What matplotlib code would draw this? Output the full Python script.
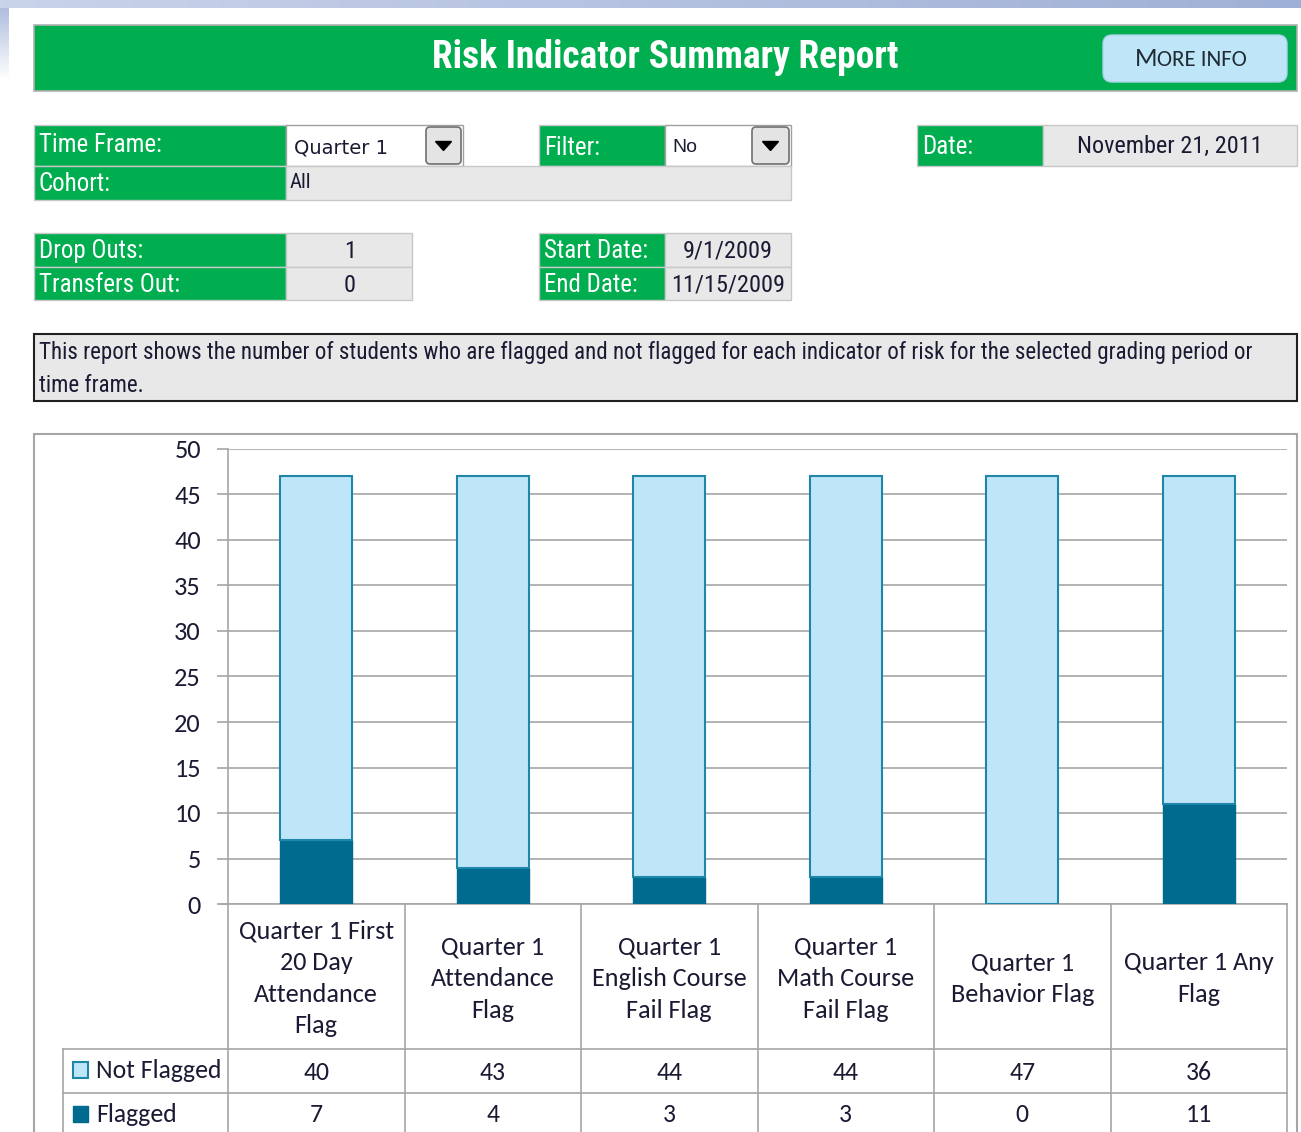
import numpy as np
import matplotlib
matplotlib.use("Agg")
import matplotlib.pyplot as plt
from matplotlib.patches import Rectangle, FancyBboxPatch, Polygon

# chart data
categories = [
    "Quarter 1 First\n20 Day\nAttendance\nFlag",
    "Quarter 1\nAttendance\nFlag",
    "Quarter 1\nEnglish Course\nFail Flag",
    "Quarter 1\nMath Course\nFail Flag",
    "Quarter 1\nBehavior Flag",
    "Quarter 1 Any\nFlag",
]
not_flagged = [40, 43, 44, 44, 47, 36]
flagged = [7, 4, 3, 3, 0, 11]
series_names = ["Not Flagged", "Flagged"]
y_ticks = [0, 5, 10, 15, 20, 25, 30, 35, 40, 45, 50]

# header info
report_title = "Risk Indicator Summary Report"
time_frame = "Quarter 1"
filter_value = "No"
cohort = "All"
report_date = "November 21, 2011"
drop_outs = 1
transfers_out = 0
start_date = "9/1/2009"
end_date = "11/15/2009"
description = ("This report shows the number of students who are flagged and not flagged for each "
               "indicator of risk for the selected grading period or\ntime frame.")

GREEN = "#00AE50"
CELL = "#E8E8E8"
LIGHT = "#BEE6F8"
LIGHT_EDGE = "#1E87A8"
DARK = "#006A8F"
GRID = "#A6A6A6"
TXT = "#1A1A33"
NARROW = ["Roboto Condensed", "Archivo Narrow", "DejaVu Sans"]
CHART_FONT = ["Carlito", "Lato", "DejaVu Sans"]

W, H = 1301, 1132
fig = plt.figure(figsize=(W / 100, H / 100), dpi=100)
bg = fig.add_axes([0, 0, 1, 1])
bg.set_xlim(0, W)
bg.set_ylim(H, 0)
bg.axis("off")


def box(x0, y0, x1, y1, fc, ec="#C8C8C8", lw=1.0, z=1):
    bg.add_patch(Rectangle((x0, y0), x1 - x0, y1 - y0, facecolor=fc, edgecolor=ec, linewidth=lw, zorder=z))


def label(x, y, s, size=18, color="white", ha="left", weight="normal", family=NARROW):
    bg.text(x, y, s, fontsize=size, color=color, ha=ha, va="center", fontweight=weight, family=family, zorder=5)


def dropdown_button(x0, y0, x1, y1):
    bg.add_patch(FancyBboxPatch((x0 + 2, y0 + 2), x1 - x0 - 4, y1 - y0 - 4,
                                boxstyle="round,pad=0,rounding_size=4",
                                facecolor="#E4E4E4", edgecolor="#707070", linewidth=1.2, zorder=3))
    cx, cy = (x0 + x1) / 2, (y0 + y1) / 2
    bg.add_patch(Polygon([[cx - 8, cy - 4], [cx + 8, cy - 4], [cx, cy + 5]], closed=True,
                         facecolor="black", edgecolor="black", zorder=4))


# window chrome gradient at the top / left edge
grad = np.linspace(0, 1, 256).reshape(1, -1)
bg.imshow(grad, extent=[0, W, 8, 0], cmap=matplotlib.colors.LinearSegmentedColormap.from_list(
    "g", ["#C9D3EA", "#9FB0D6"]), aspect="auto", zorder=0)
vgrad = np.linspace(0, 1, 64).reshape(-1, 1)
bg.imshow(vgrad, extent=[0, 9, 80, 8], cmap=matplotlib.colors.LinearSegmentedColormap.from_list(
    "v", ["#AFBEDF", "#FFFFFF"]), aspect="auto", zorder=0)

# title bar
box(34, 25, 1297, 91, GREEN, ec="#B0B0B0", lw=1.2)
label(665, 58, report_title, size=27, ha="center", weight="bold")
bg.add_patch(FancyBboxPatch((1103, 35), 184, 47, boxstyle="round,pad=0,rounding_size=9",
                            facecolor="#BEE6F8", edgecolor="#A8D4EA", linewidth=1, zorder=3))
bg.text(1157, 59, "M", fontsize=19, color="#1F2A33", ha="right", va="center", family=CHART_FONT, zorder=5)
bg.text(1157, 60, "ORE INFO", fontsize=16.5, color="#1F2A33", ha="left", va="center", family=CHART_FONT, zorder=5)

# time frame / cohort / filter / date
box(34, 125, 286, 166, GREEN)
label(39, 145, "Time Frame:")
box(286, 125, 463, 166, "white", ec="#A0A0A0")
label(294, 148, time_frame, size=14, color=TXT, family=["DejaVu Sans"])
dropdown_button(424, 125, 463, 166)
box(539, 125, 665, 166, GREEN)
label(544, 148, "Filter:")
box(665, 125, 791, 166, "white", ec="#A0A0A0")
label(672, 148, filter_value, size=14, color=TXT, family=["Liberation Sans", "DejaVu Sans"])
dropdown_button(750, 125, 791, 166)
box(34, 166, 286, 200, GREEN)
label(39, 184, "Cohort:")
box(286, 166, 791, 200, CELL)
label(290, 183, cohort, size=15, color=TXT)
box(917, 125, 1043, 166, GREEN)
label(922, 147, "Date:")
box(1043, 125, 1297, 166, CELL)
label(1170, 146, report_date, size=17.5, color=TXT, ha="center")

# drop outs / transfers / dates
box(34, 233, 286, 267, GREEN)
label(39, 251, "Drop Outs:")
box(286, 233, 412, 267, CELL)
label(350, 251, str(drop_outs), size=17.5, color=TXT, ha="center")
box(34, 267, 286, 300, GREEN)
label(39, 285, "Transfers Out:")
box(286, 267, 412, 300, CELL)
label(350, 285, str(transfers_out), size=17.5, color=TXT, ha="center")
box(539, 233, 665, 267, GREEN)
label(544, 251, "Start Date:")
box(665, 233, 791, 267, CELL)
label(728, 251, start_date, size=17.5, color=TXT, ha="center")
box(539, 267, 665, 300, GREEN)
label(544, 285, "End Date:")
box(665, 267, 791, 300, CELL)
label(728, 285, end_date, size=17.5, color=TXT, ha="center")

# description
box(34, 334, 1297, 401, CELL, ec="#202020", lw=1.5)
bg.text(39, 369, description, fontsize=16.6, color=TXT, ha="left", va="center",
        family=NARROW, linespacing=1.6, zorder=5)

# chart frame
box(34, 434, 1297, H + 5, "white", ec=GRID, lw=1.5)

# stacked bars
px0, px1, py0, py1 = 228, 1287, 449, 904
ax = fig.add_axes([px0 / W, 1 - py1 / H, (px1 - px0) / W, (py1 - py0) / H])
ax.set_facecolor("none")
x = np.arange(len(categories))
ax.bar(x, flagged, width=0.41, color=DARK, edgecolor=DARK, linewidth=1, zorder=3)
ax.bar(x, not_flagged, width=0.41, bottom=flagged, color=LIGHT, edgecolor=LIGHT_EDGE, linewidth=1.5, zorder=3)
ax.set_xlim(-0.5, len(categories) - 0.5)
ax.set_ylim(0, 50)
ax.set_yticks(y_ticks)
ax.set_yticklabels([str(t) for t in y_ticks], fontsize=19, color=TXT, family=CHART_FONT)
ax.tick_params(axis="y", length=8, width=1.2, color=GRID, pad=11.5)
ax.set_xticks([])
ax.yaxis.grid(True, color=GRID, linewidth=1.2, zorder=0)
for s in ["top", "right", "bottom"]:
    ax.spines[s].set_visible(False)
ax.spines["left"].set_color(GRID)
ax.spines["left"].set_linewidth(1.2)

# data table under the chart
cw = (px1 - px0) / len(categories)
row1, row2 = 1049, 1093
bg.plot([220, px1], [py1, py1], color=GRID, lw=1.2, zorder=4)
bg.plot([63, px1], [row1, row1], color=GRID, lw=1.2, zorder=4)
bg.plot([63, px1], [row2, row2], color=GRID, lw=1.2, zorder=4)
bg.plot([63, 63], [row1, H + 5], color=GRID, lw=1.2, zorder=4)
for i in range(len(categories) + 1):
    xx = px0 + i * cw
    bg.plot([xx, xx], [py1, H + 5], color=GRID, lw=1.2, zorder=4)
for i, cat in enumerate(categories):
    cx = px0 + (i + 0.5) * cw
    bg.text(cx, (py1 + row1) / 2 + 2, cat, fontsize=18.8, color=TXT, ha="center", va="center",
            family=CHART_FONT, linespacing=1.45, zorder=5)
    bg.text(cx, 1072, str(not_flagged[i]), fontsize=18.5, color=TXT, ha="center", va="center",
            family=CHART_FONT, zorder=5)
    bg.text(cx, 1115, str(flagged[i]), fontsize=18.5, color=TXT, ha="center", va="center",
            family=CHART_FONT, zorder=5)
bg.add_patch(Rectangle((73, 1062), 15, 16, facecolor=LIGHT, edgecolor=LIGHT_EDGE, linewidth=1.5, zorder=5))
bg.add_patch(Rectangle((73, 1106), 15, 16, facecolor=DARK, edgecolor=DARK, linewidth=1, zorder=5))
bg.text(96, 1071, series_names[0], fontsize=18.5, color=TXT, ha="left", va="center", family=CHART_FONT, zorder=5)
bg.text(96, 1114, series_names[1], fontsize=18.5, color=TXT, ha="left", va="center", family=CHART_FONT, zorder=5)

fig.savefig("out.png", dpi=100)
